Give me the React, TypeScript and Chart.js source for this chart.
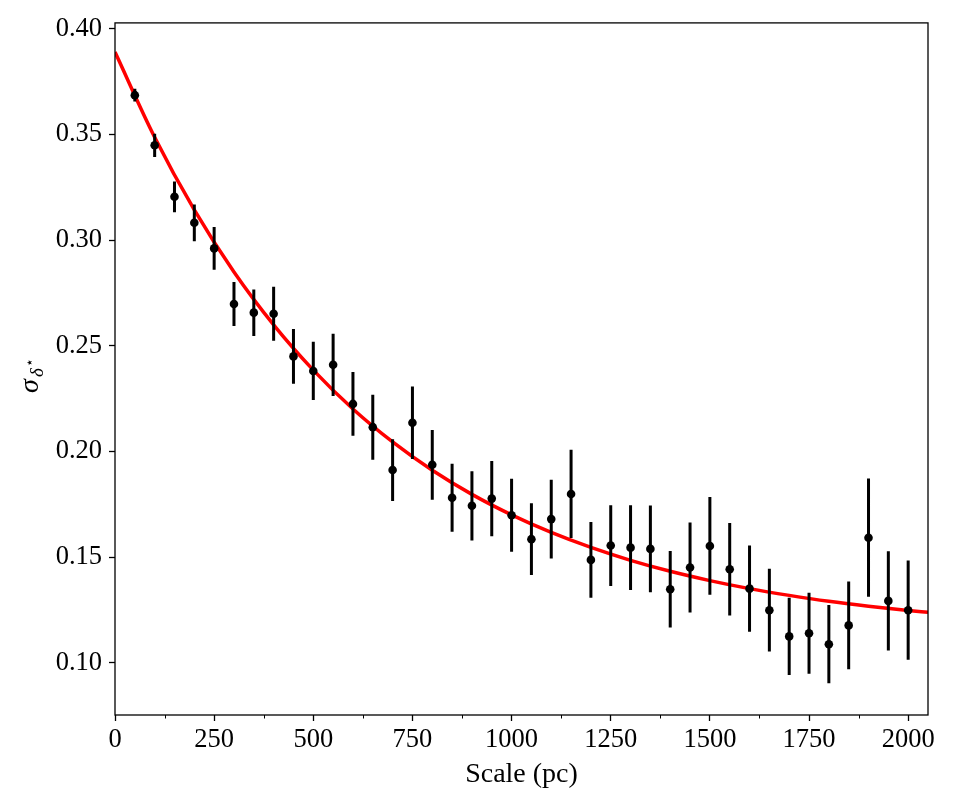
import React, { useEffect, useRef } from 'react';
import { Chart, registerables } from 'chart.js';

Chart.register(...registerables);

// Measured points (Scale in pc) with 1-sigma error bars
const scaleX = [50, 100, 150, 200, 250, 300, 350, 400, 450, 500, 550, 600, 650, 700, 750, 800, 850, 900, 950, 1000,
  1050, 1100, 1150, 1200, 1250, 1300, 1350, 1400, 1450, 1500, 1550, 1600, 1650, 1700, 1750, 1800, 1850, 1900, 1950, 2000];
const sigmaY = [0.3686, 0.3449, 0.3205, 0.3082, 0.2961, 0.2698, 0.2657, 0.2652, 0.2450, 0.2381, 0.2410, 0.2225, 0.2115, 0.1912, 0.2136, 0.1937, 0.1781, 0.1743, 0.1777, 0.1698,
  0.1585, 0.1680, 0.1799, 0.1487, 0.1555, 0.1545, 0.1539, 0.1348, 0.1451, 0.1553, 0.1443, 0.1351, 0.1249, 0.1125, 0.1140, 0.1088, 0.1177, 0.1592, 0.1293, 0.1249];
const sigmaErr = [0.0030, 0.0055, 0.0073, 0.0087, 0.0101, 0.0104, 0.0110, 0.0128, 0.0130, 0.0138, 0.0147, 0.0151, 0.0154, 0.0146, 0.0172, 0.0165, 0.0161, 0.0164, 0.0178, 0.0173,
  0.0170, 0.0186, 0.0209, 0.0179, 0.0191, 0.0200, 0.0205, 0.0181, 0.0213, 0.0231, 0.0219, 0.0204, 0.0196, 0.0183, 0.0192, 0.0185, 0.0208, 0.0280, 0.0235, 0.0235];

// Fitted curve
const fitX = [0, 100, 200, 300, 400, 500, 600, 700, 800, 900, 1000, 1100, 1200, 1300, 1400, 1500, 1600, 1700, 1800, 1900, 2000, 2050];
const fitY = [0.3890, 0.3487, 0.3143, 0.2849, 0.2599, 0.2385, 0.2201, 0.2045, 0.1911, 0.1797, 0.1700, 0.1617, 0.1546, 0.1485, 0.1433, 0.1389, 0.1351, 0.1319, 0.1291, 0.1268, 0.1248, 0.1239];

const xMajorTicks = [0, 250, 500, 750, 1000, 1250, 1500, 1750, 2000];
const xMinorTicks = [125, 375, 625, 875, 1125, 1375, 1625, 1875];
const yTicks = [0.10, 0.15, 0.20, 0.25, 0.30, 0.35, 0.40];

const X_LABEL = 'Scale (pc)';
const Y_MAIN = 'σ';
const Y_SUB = 'δ';
const Y_SUP = '⋆';

const FONT = "'Liberation Serif', 'Times New Roman', serif";

export default function App() {
  const canvasRef = useRef<HTMLCanvasElement | null>(null);

  useEffect(() => {
    document.body.style.margin = '0';
    const canvas = canvasRef.current;
    if (!canvas) return;

    const errData: { x: number; y: number | null }[] = [];
    scaleX.forEach((x, i) => {
      errData.push({ x, y: sigmaY[i] - sigmaErr[i] });
      errData.push({ x, y: sigmaY[i] + sigmaErr[i] });
      errData.push({ x, y: null });
    });

    const framePlugin = {
      id: 'framePlugin',
      afterDraw(chart: any) {
        const { ctx, chartArea } = chart;
        const xs = chart.scales.x;
        ctx.save();
        ctx.strokeStyle = '#000';
        ctx.lineWidth = 1.3;
        ctx.strokeRect(chartArea.left, chartArea.top, chartArea.right - chartArea.left, chartArea.bottom - chartArea.top);
        // minor ticks
        ctx.lineWidth = 1;
        xMinorTicks.forEach((v) => {
          const px = Math.round(xs.getPixelForValue(v)) + 0.5;
          ctx.beginPath();
          ctx.moveTo(px, chartArea.bottom);
          ctx.lineTo(px, chartArea.bottom + 3.5);
          ctx.stroke();
        });
        // y-axis title: sigma_{delta^star}
        ctx.translate(31, 372);
        ctx.rotate(-Math.PI / 2);
        ctx.fillStyle = '#000';
        ctx.textBaseline = 'alphabetic';
        ctx.textAlign = 'left';
        ctx.font = `italic 28px ${FONT}`;
        ctx.fillText(Y_MAIN, -21, 7);
        ctx.font = `italic 19px ${FONT}`;
        ctx.fillText(Y_SUB, -5, 12);
        ctx.font = `14px 'DejaVu Sans', sans-serif`;
        ctx.fillText(Y_SUP, 5, 3);
        ctx.restore();
      },
    };

    const chart = new Chart(canvas, {
      type: 'line',
      data: {
        datasets: [
          {
            label: 'points',
            data: scaleX.map((x, i) => ({ x, y: sigmaY[i] })),
            showLine: false,
            pointRadius: 4.3,
            pointBackgroundColor: '#000',
            pointBorderColor: '#000',
            pointBorderWidth: 0,
            order: 1,
          },
          {
            label: 'errors',
            data: errData,
            borderColor: '#000',
            borderWidth: 3,
            pointRadius: 0,
            spanGaps: false,
            borderCapStyle: 'butt',
            order: 2,
          },
          {
            label: 'fit',
            data: fitX.map((x, i) => ({ x, y: fitY[i] })),
            borderColor: '#ff0000',
            borderWidth: 3.5,
            pointRadius: 0,
            cubicInterpolationMode: 'monotone',
            order: 3,
          },
        ],
      },
      options: {
        responsive: false,
        animation: false,
        events: [],
        layout: { padding: { left: 0, right: 25, top: 22, bottom: 0 } },
        plugins: { legend: { display: false }, tooltip: { enabled: false } },
        scales: {
          x: {
            type: 'linear',
            min: 0,
            max: 2050,
            afterBuildTicks: (scale: any) => {
              scale.ticks = xMajorTicks.map((v) => ({ value: v }));
            },
            afterFit: (scale: any) => {
              scale.height = 95;
            },
            ticks: {
              autoSkip: false,
              maxRotation: 0,
              color: '#000',
              padding: 3,
              font: { family: FONT, size: 26.5 },
              callback: (v: any) => String(v),
            },
            grid: { drawOnChartArea: false, drawTicks: true, tickLength: 6, tickColor: '#000', tickWidth: 1.3 },
            border: { display: false },
            title: {
              display: true,
              text: X_LABEL,
              color: '#000',
              font: { family: FONT, size: 28 },
              padding: { top: 0, bottom: 19 },
            },
          },
          y: {
            type: 'linear',
            min: 0.0753,
            max: 0.4028,
            afterBuildTicks: (scale: any) => {
              scale.ticks = yTicks.map((v) => ({ value: v }));
            },
            afterFit: (scale: any) => {
              scale.width = 115;
            },
            ticks: {
              autoSkip: false,
              color: '#000',
              padding: 7,
              font: { family: FONT, size: 26.5 },
              callback: (v: any) => Number(v).toFixed(2),
            },
            grid: { drawOnChartArea: false, drawTicks: true, tickLength: 6, tickColor: '#000', tickWidth: 1.3 },
            border: { display: false },
          },
        },
      },
      plugins: [framePlugin],
    } as any);

    return () => {
      chart.destroy();
    };
  }, []);

  return (
    <div style={{ width: 953, height: 810, background: '#fff' }}>
      <canvas ref={canvasRef} width={953} height={810} style={{ display: 'block' }} />
    </div>
  );
}
